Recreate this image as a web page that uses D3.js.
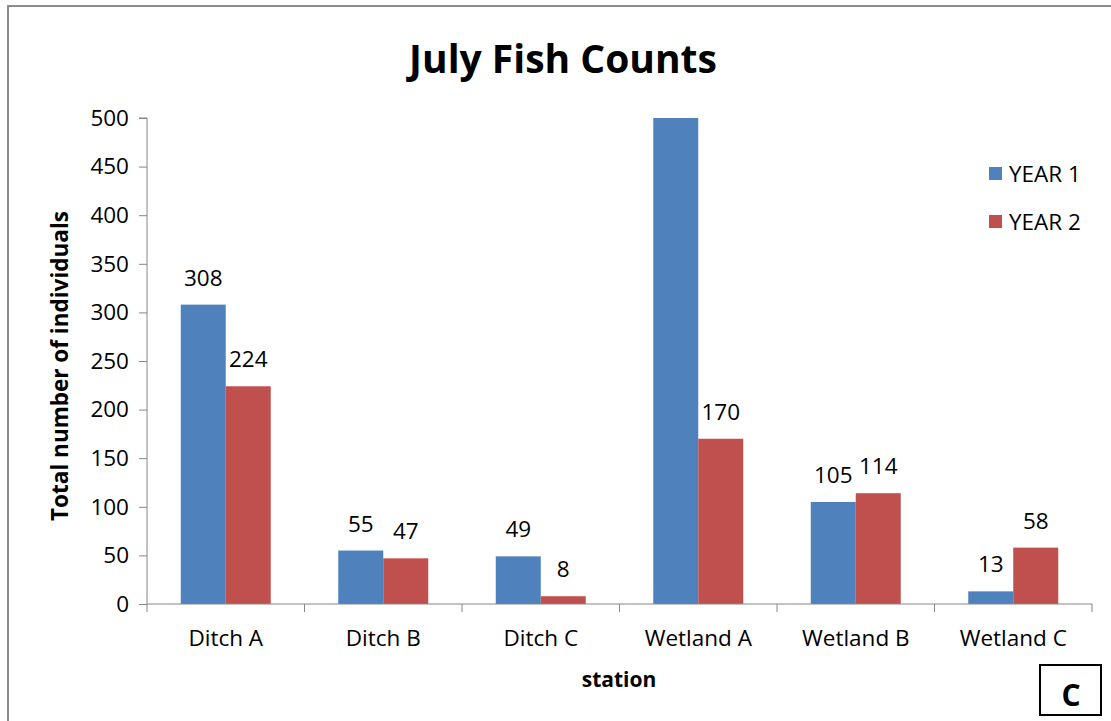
<!DOCTYPE html>
<html><head><meta charset="utf-8">
<script src="https://cdn.jsdelivr.net/npm/d3@7/dist/d3.min.js"></script>
<style>body{margin:0;background:#fff;}svg{display:block;font-family:"Open Sans",sans-serif;}</style>
</head><body>
<svg id="c" width="1111" height="721"></svg>
<script>
const categories = ["Ditch A","Ditch B","Ditch C","Wetland A","Wetland B","Wetland C"];
const seriesNames = ["YEAR 1","YEAR 2"];
const year1 = [308,55,49,500,105,13];
const year2 = [224,47,8,170,114,58];
const yTicks = [0,50,100,150,200,250,300,350,400,450,500];
const colors = ["#4F81BD","#C0504D"];

const svg = d3.select("#c");
const W = 1111, H = 721;
const m = {left:147, right:1092, top:118, bottom:604};
const FS = 22.5;

// outer border
svg.append("rect").attr("x",8).attr("y",6).attr("width",W+20).attr("height",H+20)
  .attr("fill","none").attr("stroke","#8c8c8c").attr("stroke-width",2);

const x0 = d3.scaleBand().domain(categories).range([m.left,m.right]).paddingInner(0.4286).paddingOuter(0.2143);
const x1 = d3.scaleBand().domain(seriesNames).range([0,x0.bandwidth()]);
const y = d3.scaleLinear().domain([0,500]).range([m.bottom,m.top]);

// bars
const data = categories.map((c,i)=>({cat:c, vals:[year1[i],year2[i]]}));
const g = svg.append("g");
data.forEach(d=>{
  d.vals.forEach((v,j)=>{
    const vv = Math.min(v,500);
    g.append("rect").attr("x",x0(d.cat)+x1(seriesNames[j])).attr("y",y(vv))
      .attr("width",x1.bandwidth()).attr("height",y(0)-y(vv)).attr("fill",colors[j]);
    if (v < 500) {
      g.append("text").attr("x",x0(d.cat)+x1(seriesNames[j])+x1.bandwidth()/2)
        .attr("y",y(v)-19).attr("text-anchor","middle").attr("font-size",FS).attr("fill","#000").text(v);
    }
  });
});

// y axis
const yAxis = d3.axisLeft(y).tickValues(yTicks).tickSize(8).tickPadding(10);
const ya = svg.append("g").attr("transform",`translate(${m.left},0)`).call(yAxis);
ya.select(".domain").attr("stroke","#868686").attr("d",`M-8,${m.top}H0V${m.bottom}`);
ya.selectAll(".tick line").attr("stroke","#868686");
ya.selectAll("text").attr("font-size",FS).attr("fill","#000").attr("font-family","Open Sans");

// x axis
const xa = svg.append("g").attr("transform",`translate(0,${m.bottom})`);
xa.append("line").attr("x1",m.left).attr("x2",m.right).attr("y1",0).attr("y2",0).attr("stroke","#868686");
const step = x0.step();
d3.range(categories.length+1).forEach(i=>{
  const xx = m.left + i*step;
  xa.append("line").attr("x1",xx).attr("x2",xx).attr("y1",0).attr("y2",8).attr("stroke","#868686");
});
xa.selectAll("text.cat").data(categories).enter().append("text").attr("class","cat")
  .attr("x",d=>x0(d)+x0.bandwidth()/2).attr("y",42).attr("text-anchor","middle")
  .attr("font-size",FS).attr("fill","#000").text(d=>d);

// titles
svg.append("text").attr("x",563).attr("y",73).attr("text-anchor","middle")
  .attr("font-size",39).attr("font-weight","bold").text("July Fish Counts");
svg.append("text").attr("x",619).attr("y",687).attr("text-anchor","middle")
  .attr("font-size",21).attr("font-weight","bold").text("station");
svg.append("text").attr("transform","translate(68,366) rotate(-90)").attr("text-anchor","middle")
  .attr("font-size",22.5).attr("font-weight","bold").text("Total number of individuals");

// legend
seriesNames.forEach((s,i)=>{
  const ly = 167 + i*48;
  svg.append("rect").attr("x",989).attr("y",ly).attr("width",13).attr("height",13).attr("fill",colors[i]);
  svg.append("text").attr("x",1009).attr("y",ly+15).attr("font-size",FS).text(s);
});

// C box
svg.append("rect").attr("x",1040).attr("y",665).attr("width",61).attr("height",50)
  .attr("fill","none").attr("stroke","#000").attr("stroke-width",2);
svg.append("text").attr("x",1071).attr("y",706).attr("text-anchor","middle")
  .attr("font-size",30).attr("font-weight","bold").text("C");
</script>
</body></html>
